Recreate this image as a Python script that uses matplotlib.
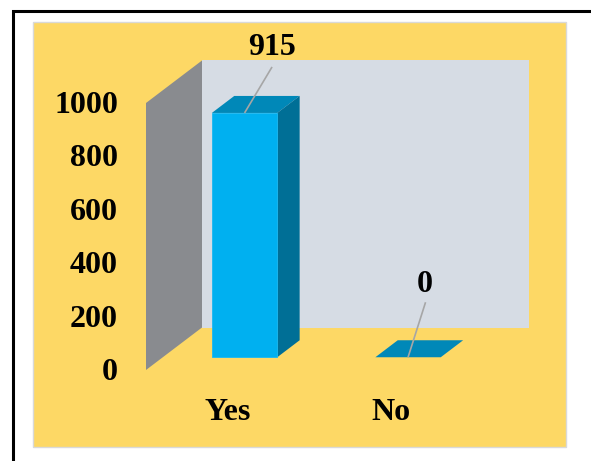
import matplotlib
matplotlib.use("Agg")
import matplotlib.pyplot as plt
from matplotlib.patches import Polygon, Rectangle

# ---- data ----
categories = ["Yes", "No"]
values = [915, 0]
value_labels = ["915", "0"]
yticks = [0, 200, 400, 600, 800, 1000]
ymax = 1000

# ---- layout / style ----
W, H = 591, 461
PX_PER_CAT = 163.5          # pixels per category on the front plane
PX_PER_VAL = 0.267          # pixels per value unit
X0_PX, Y0_PX = 146, 370     # front plane origin (pixel coords, y from top)
DEPTH_PX = (56, 42.5)       # full depth offset in pixels
DC = DEPTH_PX[0] / PX_PER_CAT
DV = DEPTH_PX[1] / PX_PER_VAL
BAR_W = 0.4
BAR_D0, BAR_D1 = 0.3, 0.7

YELLOW = "#FDD865"
BACKWALL = "#D6DCE4"
SIDEWALL = "#898B8F"
FRONT = "#00B0F0"
TOP = "#0088B8"
SIDE = "#006F96"
LEADER = "#A6A6A6"
FONT = dict(family="Liberation Serif", weight="bold", size=23, color="black")

fig = plt.figure(figsize=(W / 100, H / 100), dpi=100)
fig.patch.set_facecolor("white")

# outer black frame (runs off right/bottom edges)
fig.add_artist(Rectangle((13 / W, -0.2), 1.3, 1.2 - 11 / H, transform=fig.transFigure,
                         facecolor="none", edgecolor="black", linewidth=2.2, zorder=-10))
# yellow chart area
fig.add_artist(Rectangle((33 / W, 1 - 447 / H), 533 / W, 425 / H, transform=fig.transFigure,
                         facecolor=YELLOW, edgecolor="#D9D9D9", linewidth=1.0, zorder=-9))

ax = fig.add_axes([0, 0, 1, 1])
ax.set_zorder(1)
ax.set_facecolor("none")
ax.set_xlim(-X0_PX / PX_PER_CAT, (W - X0_PX) / PX_PER_CAT)
ax.set_ylim((Y0_PX - H) / PX_PER_VAL, Y0_PX / PX_PER_VAL)
ax.axis("off")


def proj(c, v, d):
    return (c + d * DC, v + d * DV)


ncat = len(categories)
# back wall
ax.add_patch(Polygon([proj(0, 0, 1), proj(ncat, 0, 1), proj(ncat, ymax, 1), proj(0, ymax, 1)],
                     closed=True, facecolor=BACKWALL, edgecolor="none"))
# side wall
ax.add_patch(Polygon([proj(0, 0, 0), proj(0, 0, 1), proj(0, ymax, 1), proj(0, ymax, 0)],
                     closed=True, facecolor=SIDEWALL, edgecolor="none"))

# tick labels
for t in yticks:
    ax.annotate(str(t), xy=((118 - X0_PX) / PX_PER_CAT, t), xytext=(0, -10),
                textcoords="offset pixels", ha="right", va="baseline", **FONT)

# category labels
for i, cat in enumerate(categories):
    ax.annotate(cat, xy=(i + 0.5, 0), xytext=(0, -50), textcoords="offset pixels",
                ha="center", va="baseline", **FONT)

# bars
for i, v in enumerate(values):
    cl, cr = i + 0.5 - BAR_W / 2, i + 0.5 + BAR_W / 2
    # top
    ax.add_patch(Polygon([proj(cl, v, BAR_D0), proj(cr, v, BAR_D0), proj(cr, v, BAR_D1), proj(cl, v, BAR_D1)],
                         closed=True, facecolor=TOP, edgecolor="none"))
    if v > 0:
        ax.add_patch(Polygon([proj(cr, 0, BAR_D0), proj(cr, 0, BAR_D1), proj(cr, v, BAR_D1), proj(cr, v, BAR_D0)],
                             closed=True, facecolor=SIDE, edgecolor="none"))
        ax.add_patch(Polygon([proj(cl, 0, BAR_D0), proj(cr, 0, BAR_D0), proj(cr, v, BAR_D0), proj(cl, v, BAR_D0)],
                             closed=True, facecolor=FRONT, edgecolor="#19B8F2", linewidth=0.6))

# value labels with leader lines (offsets in pixels)
label_offsets = [(27, 58, 27.5, 46), (16.5, 65, 17.5, 55)]
for i, (v, lab) in enumerate(zip(values, value_labels)):
    bx, by = proj(i + 0.5, v, BAR_D0)
    tdx, tdy, ldx, ldy = label_offsets[i]
    ax.plot([bx, bx + ldx / PX_PER_CAT], [by, by + ldy / PX_PER_VAL], color=LEADER, lw=1.2,
            solid_capstyle="butt")
    ax.annotate(lab, xy=(bx, by), xytext=(tdx, tdy), textcoords="offset pixels",
                ha="center", va="baseline", **FONT)

fig.savefig("out.png", dpi=100)
